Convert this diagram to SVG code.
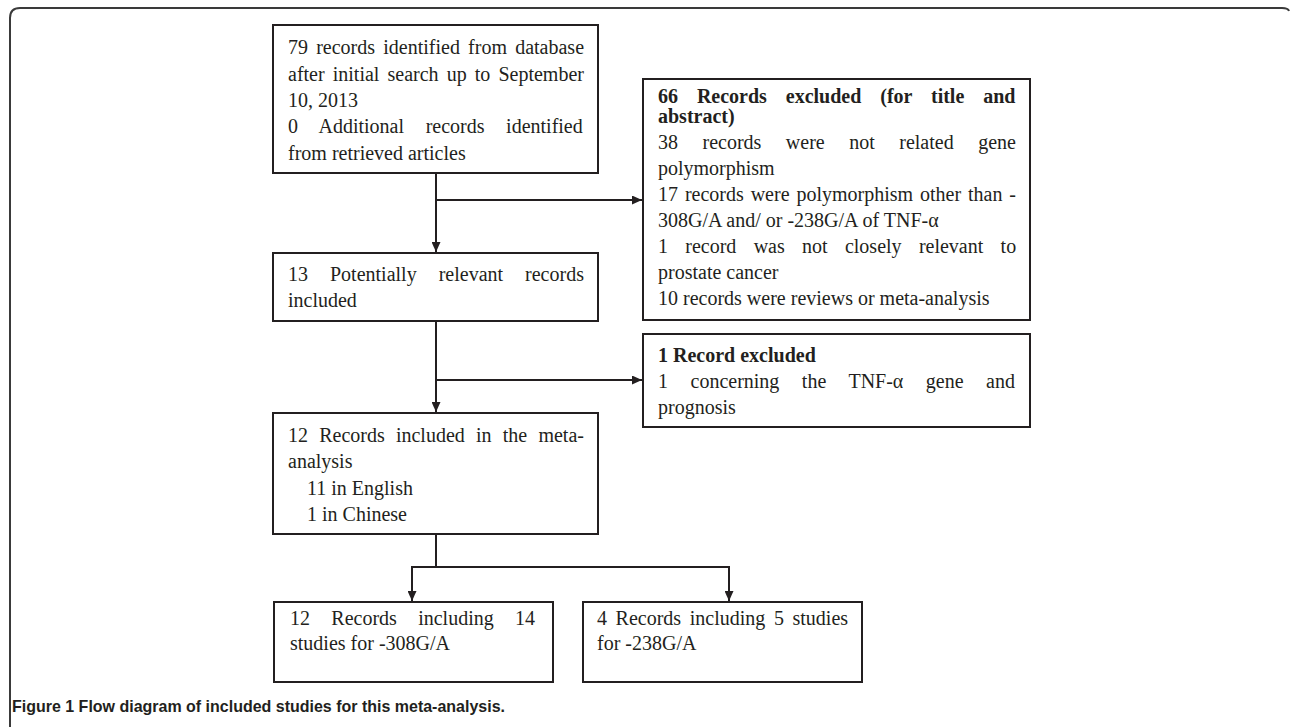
<svg xmlns="http://www.w3.org/2000/svg" width="1290" height="727" viewBox="0 0 1290 727">
<defs>
<marker id="arr" markerUnits="userSpaceOnUse" markerWidth="10" markerHeight="9" refX="10" refY="4.5" orient="auto">
<path d="M0,0 L10,4.5 L0,9 z" fill="#231f20"/>
</marker>
</defs>
<style>
.box{fill:#fff;stroke:#231f20;stroke-width:2}
.t{font-family:"Liberation Serif","Times New Roman",serif;font-size:20px;fill:#231f20}
.b{font-weight:bold}
.c{fill:none;stroke:#231f20;stroke-width:2}
.cap{font-family:"Liberation Sans",Arial,sans-serif;font-weight:bold;font-size:17px;fill:#231f20}
</style>
<rect width="1290" height="727" fill="#fff"/>
<path d="M10,727 V18 Q10,8 20,8 H1282 Q1288,8 1289,11" fill="none" stroke="#3a3a3a" stroke-width="2"/>

<g id="connectors">
<path class="c" d="M436,173 V252" marker-end="url(#arr)"/>
<path class="c" d="M436,200 H642" marker-end="url(#arr)"/>
<path class="c" d="M436,321 V412" marker-end="url(#arr)"/>
<path class="c" d="M436,380 H642" marker-end="url(#arr)"/>
<path class="c" d="M436,534 V567 M411,567 H730"/>
<path class="c" d="M412,566 V601" marker-end="url(#arr)"/>
<path class="c" d="M729,566 V601" marker-end="url(#arr)"/>
</g>

<g id="n1">
<rect class="box" x="273" y="25" width="325" height="148"/>
<text class="t" x="288" y="54" word-spacing="3.2">79 records identified from database</text>
<text class="t" x="288" y="81" word-spacing="3.1">after initial search up to September</text>
<text class="t" x="288" y="107">10, 2013</text>
<text class="t" x="288" y="133" word-spacing="16.6">0 Additional records identified</text>
<text class="t" x="288" y="160">from retrieved articles</text>
</g>

<g id="n2">
<rect class="box" x="643" y="79" width="387" height="241"/>
<text class="t b" x="658" y="103" word-spacing="13.9">66 Records excluded (for title and</text>
<text class="t b" x="658" y="123">abstract)</text>
<text class="t" x="658" y="149" word-spacing="19.5">38 records were not related gene</text>
<text class="t" x="658" y="175">polymorphism</text>
<text class="t" x="658" y="201" word-spacing="1.9">17 records were polymorphism other than -</text>
<text class="t" x="658" y="227">308G/A and/ or -238G/A of TNF-α</text>
<text class="t" x="658" y="253" word-spacing="12.3">1 record was not closely relevant to</text>
<text class="t" x="658" y="279">prostate cancer</text>
<text class="t" x="658" y="305">10 records were reviews or meta-analysis</text>
</g>

<g id="n3">
<rect class="box" x="273" y="253" width="325" height="68"/>
<text class="t" x="288" y="281" word-spacing="17">13 Potentially relevant records</text>
<text class="t" x="288" y="307">included</text>
</g>

<g id="n4">
<rect class="box" x="643" y="334" width="387" height="93"/>
<text class="t b" x="658" y="362">1 Record excluded</text>
<text class="t" x="658" y="388" word-spacing="17.5">1 concerning the TNF-α gene and</text>
<text class="t" x="658" y="414">prognosis</text>
</g>

<g id="n5">
<rect class="box" x="273" y="413" width="325" height="121"/>
<text class="t" x="288" y="442" word-spacing="6.2">12 Records included in the meta-</text>
<text class="t" x="288" y="468">analysis</text>
<text class="t" x="307" y="495">11 in English</text>
<text class="t" x="307" y="521">1 in Chinese</text>
</g>

<g id="n6">
<rect class="box" x="274" y="602" width="279" height="80"/>
<text class="t" x="290" y="625" word-spacing="16.3">12 Records including 14</text>
<text class="t" x="290" y="650">studies for -308G/A</text>
</g>

<g id="n7">
<rect class="box" x="583" y="602" width="279" height="80"/>
<text class="t" x="597" y="625" word-spacing="3.6">4 Records including 5 studies</text>
<text class="t" x="597" y="650">for -238G/A</text>
</g>

<text class="cap" x="12" y="712" textLength="493" lengthAdjust="spacingAndGlyphs">Figure 1 Flow diagram of included studies for this meta-analysis.</text>
</svg>
